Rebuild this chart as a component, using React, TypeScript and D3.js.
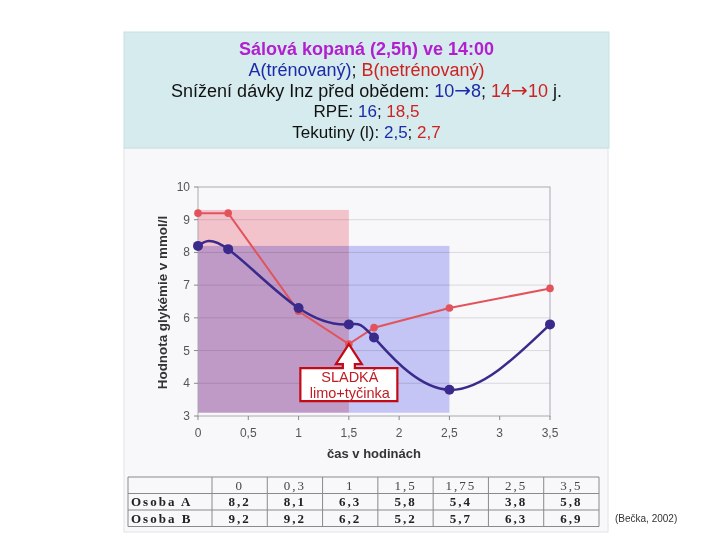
import * as d3 from "d3";

const times = [0, 0.3, 1, 1.5, 1.75, 2.5, 3.5];
const osobaA = [8.2, 8.1, 6.3, 5.8, 5.4, 3.8, 5.8];
const osobaB = [9.2, 9.2, 6.2, 5.2, 5.7, 6.3, 6.9];
const xTicks = [0, 0.5, 1, 1.5, 2, 2.5, 3, 3.5];
const yTicks = [3, 4, 5, 6, 7, 8, 9, 10];
// shaded periods: [start, end, top]
const pinkBand = [0, 1.5, 9.3];
const blueBand = [0, 2.5, 8.2];
const bandFloor = 3.1;
const rowNames = ["Osoba A", "Osoba B"];

const fmt = (v: number) => String(v).replace(".", ",");

const BLUE = "#1c2aa8";
const RED = "#cc2222";
const ARROW = "DejaVu Sans";

export default function App() {
  const W = 720, H = 540;
  const left = 198, right = 550, top = 187, bottom = 416;
  const x = d3.scaleLinear([0, 3.5], [left, right]);
  const y = d3.scaleLinear([3, 10], [bottom, top]);

  const lineA = d3.line<number>((_, i) => x(times[i]), (d) => y(d)).curve(d3.curveNatural);
  const lineB = d3.line<number>((_, i) => x(times[i]), (d) => y(d));

  // callout pointing at the B value at 1,5 h
  const tx = x(times[3]), ty = y(osobaB[3]);
  const headH = 20, headW = 13, shaftW = 6, shaftH = 4, boxW = 97, boxH = 33;
  const bTop = ty + headH + shaftH;
  const callout = [
    [tx, ty], [tx + headW, ty + headH], [tx + shaftW, ty + headH], [tx + shaftW, bTop],
    [tx + boxW / 2, bTop], [tx + boxW / 2, bTop + boxH], [tx - boxW / 2, bTop + boxH],
    [tx - boxW / 2, bTop], [tx - shaftW, bTop], [tx - shaftW, ty + headH], [tx - headW, ty + headH],
  ];

  // table
  const tLeft = 128, tFirst = 212, tRight = 599, tTop = 477, rowH = 16.5;
  const colW = (tRight - tFirst) / times.length;
  const rows = [osobaA, osobaB];

  return (
    <svg width={W} height={H} style={{ position: "absolute", left: 0, top: 0, background: "#fff" }}
      fontFamily="'Liberation Sans', Arial, sans-serif">
      <rect x={124} y={148} width={484} height={384} fill="#f8f8fb" stroke="#e2e2ea" />
      <rect x={124} y={32} width={485} height={116} fill="#d6ebee" stroke="#c8dfe2" />
      <g textAnchor="middle" fontSize={18}>
        <text x={366.5} y={55} fill="#b21fcf" fontWeight="bold">Sálová kopaná (2,5h) ve 14:00</text>
        <text x={366.5} y={76}>
          <tspan fill={BLUE}>A(trénovaný)</tspan><tspan fill="#111">; </tspan><tspan fill={RED}>B(netrénovaný)</tspan>
        </text>
        <text x={366.5} y={97} fill="#111">
          Snížení dávky Inz před obědem: <tspan fill={BLUE}>10</tspan>
          <tspan fill={BLUE} style={{ fontFamily: ARROW, fontSize: 20 }}>→</tspan>
          <tspan fill={BLUE}>8</tspan>;{" "}
          <tspan fill={RED}>14</tspan>
          <tspan fill={RED} style={{ fontFamily: ARROW, fontSize: 20 }}>→</tspan>
          <tspan fill={RED}>10</tspan> j.
        </text>
        <text x={366.5} y={117} fill="#111" fontSize={17}>
          RPE: <tspan fill={BLUE}>16</tspan>; <tspan fill={RED}>18,5</tspan>
        </text>
        <text x={366.5} y={138} fill="#111" fontSize={17}>
          Tekutiny (l): <tspan fill={BLUE}>2,5</tspan>; <tspan fill={RED}>2,7</tspan>
        </text>
      </g>

      {/* grid */}
      <g stroke="#d9d9de">
        {yTicks.slice(1, -1).map((t) => <line key={t} x1={left} x2={right} y1={y(t)} y2={y(t)} />)}
      </g>

      {/* shaded bands */}
      <rect x={x(pinkBand[0])} width={x(pinkBand[1]) - x(pinkBand[0])} y={y(pinkBand[2])}
        height={y(bandFloor) - y(pinkBand[2])} fill="#fac9d0" style={{ mixBlendMode: "multiply" }} />
      <rect x={x(blueBand[0])} width={x(blueBand[1]) - x(blueBand[0])} y={y(blueBand[2])}
        height={y(bandFloor) - y(blueBand[2])} fill="#cacaf9" style={{ mixBlendMode: "multiply" }} />

      {/* frame + ticks */}
      <rect x={left} y={top} width={right - left} height={bottom - top} fill="none" stroke="#a8a8b0" />
      <g stroke="#888">
        {yTicks.map((t) => <line key={t} x1={left - 4} x2={left} y1={y(t)} y2={y(t)} />)}
        {xTicks.map((t) => <line key={t} x1={x(t)} x2={x(t)} y1={bottom} y2={bottom + 4} />)}
      </g>
      <g fontSize={12} fill="#555">
        {yTicks.map((t) => <text key={t} x={left - 8} y={y(t) + 4} textAnchor="end">{t}</text>)}
        {xTicks.map((t) => <text key={t} x={x(t)} y={bottom + 21} textAnchor="middle">{fmt(t)}</text>)}
      </g>
      <text x={374} y={458} textAnchor="middle" fontSize={13} fontWeight="bold" fill="#333">čas v hodinách</text>
      <text transform={`translate(167,${(top + bottom) / 2 + 1}) rotate(-90)`} textAnchor="middle"
        fontSize={13.4} fontWeight="bold" fill="#333">Hodnota glykémie v mmol/l</text>

      {/* series */}
      <path d={lineB(osobaB)!} fill="none" stroke="#e2535c" strokeWidth={2} />
      <path d={lineA(osobaA)!} fill="none" stroke="#3a2a8c" strokeWidth={2.5} />
      <g fill="#e2535c">
        {osobaB.map((d, i) => <circle key={i} cx={x(times[i])} cy={y(d)} r={3.8} />)}
      </g>
      <g fill="#3a2a8c">
        {osobaA.map((d, i) => <circle key={i} cx={x(times[i])} cy={y(d)} r={5} />)}
      </g>

      {/* callout */}
      <path d={"M" + callout.map((p) => p.join(",")).join("L") + "Z"} fill="#fff" stroke="#c40a14" strokeWidth={2.2} />
      <g textAnchor="middle" fontSize={14.5} fill="#c01c24">
        <text x={tx + 1} y={bTop + 14}>SLADKÁ</text>
        <text x={tx + 1} y={bTop + 30}>limo+tyčinka</text>
      </g>

      {/* table */}
      <g fontFamily="'Liberation Serif', 'Times New Roman', serif" fontSize={13} fill="#222">
        <g stroke="#8a8a8a" strokeWidth={1}>
          {[0, 1, 2, 3].map((r) => <line key={r} x1={tLeft} x2={tRight} y1={tTop + r * rowH} y2={tTop + r * rowH} />)}
          {[tLeft, ...times.map((_, i) => tFirst + i * colW), tRight].map((cx, i) => (
            <line key={i} x1={cx} x2={cx} y1={tTop} y2={tTop + 3 * rowH} />
          ))}
        </g>
        {times.map((t, i) => (
          <text key={i} x={tFirst + (i + 0.5) * colW} y={tTop + rowH - 4} textAnchor="middle" fill="#444" letterSpacing={2}>{fmt(t)}</text>
        ))}
        {rows.map((vals, r) => (
          <g key={r} fontWeight="bold">
            <text x={tLeft + 3} y={tTop + (r + 2) * rowH - 4} letterSpacing={2}>{rowNames[r]}</text>
            {vals.map((v, i) => (
              <text key={i} x={tFirst + (i + 0.5) * colW} y={tTop + (r + 2) * rowH - 4} textAnchor="middle" letterSpacing={2}>{fmt(v)}</text>
            ))}
          </g>
        ))}
      </g>

      <text x={615} y={522} fontSize={10} fill="#333">(Bečka, 2002)</text>
    </svg>
  );
}
